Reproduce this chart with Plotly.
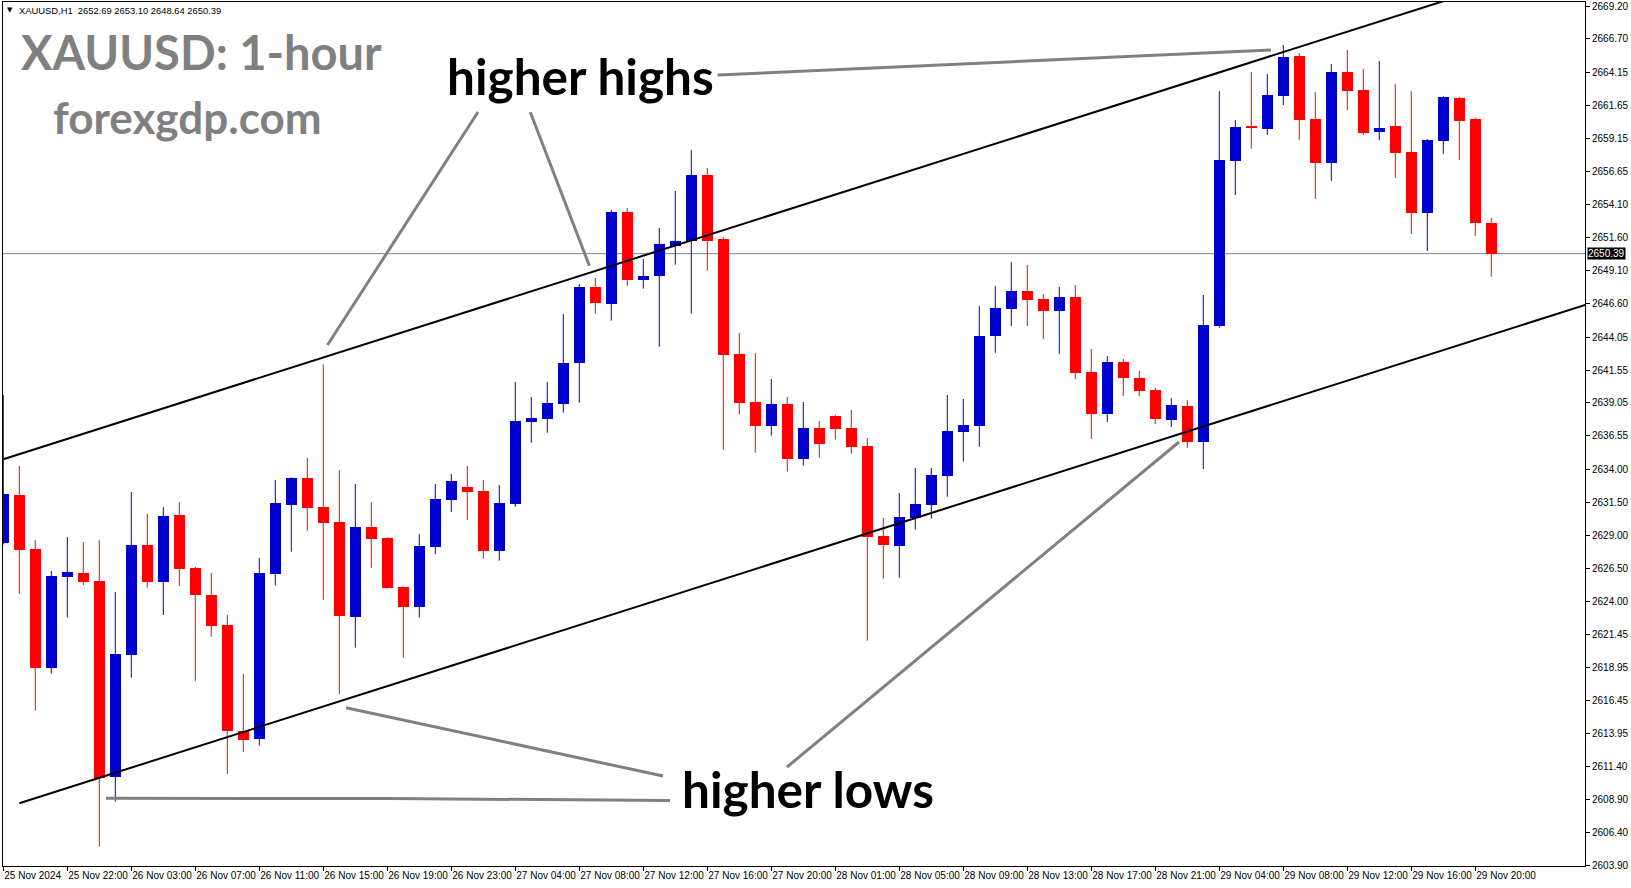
import plotly.graph_objects as go

# ---------------- data ----------------
opens = [2628.43, 2632.06, 2627.95, 2618.94, 2625.85, 2626.13, 2625.52, 2610.66, 2619.90, 2628.26,
         2625.45, 2630.54, 2626.51, 2624.46, 2622.18, 2614.13, 2613.55, 2626.08, 2631.32, 2633.35,
         2631.14, 2630.01, 2622.81, 2629.63, 2628.79, 2625.07, 2623.57, 2628.11, 2631.68, 2632.66,
         2632.36, 2627.83, 2631.37, 2637.60, 2637.83, 2638.99, 2642.11, 2647.86, 2646.59, 2653.55,
         2648.41, 2648.71, 2650.97, 2651.37, 2656.36, 2651.50, 2642.77, 2639.12, 2637.32, 2638.97,
         2634.81, 2637.15, 2638.06, 2637.15, 2635.78, 2628.96, 2628.20, 2630.33, 2631.30, 2633.50,
         2636.84, 2637.32, 2644.13, 2646.18, 2647.55, 2646.94, 2646.03, 2647.10, 2641.40, 2638.21,
         2642.16, 2640.94, 2640.03, 2637.75, 2638.82, 2636.08, 2644.92, 2657.45, 2660.05, 2659.86,
         2662.36, 2665.40, 2660.62, 2657.27, 2664.19, 2662.82, 2659.63, 2660.08, 2658.11, 2653.48,
         2658.95, 2662.21, 2660.62, 2652.69]
highs = [2639.65, 2634.26, 2628.64, 2626.28, 2628.87, 2628.49, 2628.64, 2624.69, 2632.28, 2630.61,
         2631.14, 2631.52, 2626.59, 2626.13, 2622.94, 2618.46, 2627.27, 2633.20, 2633.40, 2634.87,
         2641.98, 2633.95, 2632.89, 2631.52, 2628.85, 2625.12, 2629.09, 2632.89, 2633.65, 2634.26,
         2633.20, 2632.82, 2640.64, 2639.50, 2640.64, 2645.80, 2648.08, 2648.54, 2653.70, 2653.86,
         2649.98, 2652.34, 2655.15, 2658.26, 2656.89, 2651.63, 2644.36, 2642.84, 2640.87, 2639.50,
         2639.12, 2637.68, 2638.13, 2638.51, 2636.39, 2630.33, 2632.21, 2634.11, 2634.11, 2639.65,
         2639.35, 2646.41, 2647.93, 2649.75, 2649.53, 2647.32, 2647.86, 2648.01, 2643.15, 2642.61,
         2642.39, 2641.48, 2640.18, 2639.42, 2639.27, 2647.25, 2662.74, 2660.54, 2664.19, 2664.03,
         2666.24, 2665.63, 2662.67, 2664.79, 2665.86, 2664.41, 2665.02, 2663.28, 2662.74, 2659.10,
         2662.36, 2662.29, 2660.70, 2653.10]
lows = [2628.30, 2624.54, 2615.67, 2618.48, 2622.74, 2625.22, 2605.34, 2608.76, 2618.18, 2625.01,
        2622.94, 2625.14, 2617.93, 2621.29, 2610.86, 2612.53, 2613.01, 2625.17, 2627.75, 2629.34,
        2624.10, 2616.92, 2620.46, 2626.53, 2624.95, 2619.70, 2622.74, 2627.57, 2630.76, 2630.16,
        2627.22, 2627.07, 2631.17, 2636.03, 2636.79, 2638.31, 2639.07, 2645.83, 2645.30, 2647.95,
        2647.73, 2643.32, 2649.55, 2645.83, 2649.09, 2635.50, 2638.16, 2635.27, 2636.56, 2633.83,
        2634.28, 2634.89, 2636.26, 2635.19, 2620.99, 2625.70, 2625.77, 2629.42, 2630.26, 2631.93,
        2634.59, 2635.72, 2642.86, 2644.89, 2644.89, 2643.91, 2642.77, 2640.87, 2636.31, 2637.60,
        2639.58, 2639.58, 2637.45, 2637.22, 2635.63, 2634.03, 2644.76, 2654.84, 2658.36, 2659.42,
        2661.68, 2659.02, 2654.54, 2655.91, 2661.30, 2659.40, 2659.02, 2656.13, 2651.88, 2650.59,
        2657.96, 2657.50, 2651.73, 2648.64]
closes = [2632.13, 2627.88, 2618.94, 2625.90, 2626.21, 2625.47, 2610.58, 2619.98, 2628.26, 2625.45,
          2630.46, 2626.44, 2624.48, 2622.13, 2614.15, 2613.45, 2626.13, 2631.45, 2633.35, 2631.09,
          2629.95, 2622.89, 2629.63, 2628.74, 2625.01, 2623.57, 2628.18, 2631.75, 2633.12, 2632.28,
          2627.83, 2631.45, 2637.68, 2637.90, 2639.04, 2642.08, 2647.86, 2646.66, 2653.55, 2648.41,
          2648.69, 2651.12, 2651.35, 2656.36, 2651.37, 2642.71, 2639.07, 2637.32, 2638.97, 2634.81,
          2637.15, 2635.95, 2637.09, 2635.72, 2628.89, 2628.28, 2630.41, 2631.37, 2633.58, 2636.92,
          2637.37, 2644.13, 2646.26, 2647.55, 2646.87, 2646.03, 2647.10, 2641.32, 2638.21, 2642.16,
          2640.94, 2639.96, 2637.83, 2638.89, 2636.08, 2644.97, 2657.50, 2660.01, 2659.95, 2662.44,
          2665.33, 2660.54, 2657.27, 2664.19, 2662.74, 2659.55, 2659.93, 2658.03, 2653.48, 2659.02,
          2662.29, 2660.46, 2652.72, 2650.39]

x_tick_bars = list(range(0, 93, 4))
x_tick_labels = ["25 Nov 2024", "25 Nov 22:00", "26 Nov 03:00", "26 Nov 07:00", "26 Nov 11:00",
                 "26 Nov 15:00", "26 Nov 19:00", "26 Nov 23:00", "27 Nov 04:00", "27 Nov 08:00",
                 "27 Nov 12:00", "27 Nov 16:00", "27 Nov 20:00", "28 Nov 01:00", "28 Nov 05:00",
                 "28 Nov 09:00", "28 Nov 13:00", "28 Nov 17:00", "28 Nov 21:00", "29 Nov 04:00",
                 "29 Nov 08:00", "29 Nov 12:00", "29 Nov 16:00", "29 Nov 20:00"]
y_tick_labels = ["2669.20", "2666.70", "2664.15", "2661.65", "2659.15", "2656.65", "2654.10",
                 "2651.60", "2649.10", "2646.60", "2644.05", "2641.55", "2639.05", "2636.55",
                 "2634.00", "2631.50", "2629.00", "2626.50", "2624.00", "2621.45", "2618.95",
                 "2616.45", "2613.95", "2611.40", "2608.90", "2606.40", "2603.90"]
last_close = 2650.39

# trend channel (bar index, price)
upper_channel_x = [0, 92]
upper_channel_y = [2634.77, 2670.34]
lower_channel_x = [1.0, 99.5]
lower_channel_y = [2608.64, 2646.74]

# pointer lines (bar index, price)
pointer_lines = [
    ([29.67, 20.26], [2661.15, 2643.45]),
    ([32.94, 36.63], [2661.13, 2649.47]),
    ([44.64, 79.23], [2663.96, 2665.86]),
    ([41.23, 21.42], [2610.71, 2615.90]),
    ([41.67, 24.17, 6.42], [2608.85, 2609.00, 2609.02]),
    ([48.98, 73.48], [2611.39, 2636.08]),
]

# ---------------- figure ----------------
W, H = 1631, 888
PL, PR, PT, PB = 3, 1585, 2, 866
BLUE, RED = "#0000CD", "#FF0000"

n = len(opens)
idx = list(range(n))
up = [c >= o for o, c in zip(opens, closes)]
colors = [BLUE if u else RED for u in up]
base = [min(o, c) for o, c in zip(opens, closes)]
height = [max(abs(c - o), 0.09) for o, c in zip(opens, closes)]

fig = go.Figure()

for col, flag in ((BLUE, True), (RED, False)):
    wx, wy = [], []
    for i in idx:
        if up[i] == flag:
            wx += [i, i, None]
            wy += [lows[i], highs[i], None]
    fig.add_trace(go.Scatter(x=wx, y=wy, mode="lines", line=dict(color=col, width=1),
                             hoverinfo="skip", showlegend=False))

fig.add_trace(go.Bar(x=idx, y=height, base=base, width=0.6875,
                     marker=dict(color=colors, line=dict(width=0)),
                     hoverinfo="skip", showlegend=False))

fig.add_trace(go.Scatter(x=upper_channel_x, y=upper_channel_y, mode="lines",
                         line=dict(color="black", width=2), hoverinfo="skip", showlegend=False))
fig.add_trace(go.Scatter(x=lower_channel_x, y=lower_channel_y, mode="lines",
                         line=dict(color="black", width=2), hoverinfo="skip", showlegend=False))
for lx, ly in pointer_lines:
    fig.add_trace(go.Scatter(x=lx, y=ly, mode="lines",
                             line=dict(color="#808080", width=3), hoverinfo="skip", showlegend=False))

fig.add_shape(type="line", xref="paper", x0=0, x1=1, yref="y", y0=last_close, y1=last_close,
              line=dict(color="#778899", width=1), layer="below")


def px(x):
    return (x - PL) / (PR - PL)


def py(y):
    return (PB - y) / (PB - PT)


ann = []
ann.append(dict(x=px(10), y=py(10.5), xref="paper", yref="paper", text="▼", showarrow=False,
                xanchor="center", yanchor="middle", font=dict(family="DejaVu Sans", size=7, color="black")))
ann.append(dict(x=px(17), y=py(10.5), xref="paper", yref="paper",
                text="XAUUSD,H1  2652.69 2653.10 2648.64 2650.39", showarrow=False,
                xanchor="left", yanchor="middle",
                font=dict(family="Liberation Sans", size=9.4, color="black")))
ann.append(dict(x=px(19), y=py(52), xref="paper", yref="paper", text="<b>XAUUSD: 1-hour</b>",
                showarrow=False, xanchor="left", yanchor="middle",
                font=dict(family="Lato", size=47, color="#808080")))
ann.append(dict(x=px(51), y=py(117), xref="paper", yref="paper", text="<b>forexgdp.com</b>",
                showarrow=False, xanchor="left", yanchor="middle",
                font=dict(family="Lato", size=44, color="#808080")))
ann.append(dict(x=px(580), y=py(76), xref="paper", yref="paper", text="<b>higher highs</b>",
                showarrow=False, xanchor="center", yanchor="middle",
                font=dict(family="Lato", size=49.5, color="black")))
ann.append(dict(x=px(808), y=py(789), xref="paper", yref="paper", text="<b>higher lows</b>",
                showarrow=False, xanchor="center", yanchor="middle",
                font=dict(family="Lato", size=49.5, color="black")))
ann.append(dict(x=1, y=last_close, xref="paper", yref="y", text="2650.39", showarrow=False,
                xanchor="left", yanchor="middle", xshift=2, bgcolor="black", borderpad=0,
                font=dict(family="Liberation Sans", size=10, color="white")))

x0 = (PL - 3.3) / 16
x1 = (PR - 3.3) / 16
y_top = 2669.20 + (6 - PT) / 13.165
y_bot = 2669.20 - (PB - 6) / 13.165

fig.update_layout(
    width=W, height=H,
    margin=dict(l=PL, r=W - PR, t=PT, b=H - PB, pad=0, autoexpand=False),
    paper_bgcolor="white", plot_bgcolor="white",
    showlegend=False, bargap=0, annotations=ann,
    xaxis=dict(range=[x0, x1], showgrid=False, zeroline=False, automargin=False,
               tickmode="array", tickvals=x_tick_bars, ticktext=x_tick_labels, tickangle=0,
               ticks="outside", ticklen=4, tickcolor="black", tickwidth=1,
               ticklabelposition="outside right",
               tickfont=dict(family="Liberation Sans", size=10, color="black"),
               showline=True, linecolor="black", linewidth=1, mirror=True, fixedrange=True),
    yaxis=dict(range=[y_bot, y_top], side="right", showgrid=False, zeroline=False, automargin=False,
               tickmode="array", tickvals=[float(v) for v in y_tick_labels], ticktext=y_tick_labels,
               ticks="outside", ticklen=4, tickcolor="black", tickwidth=1,
               tickfont=dict(family="Liberation Sans", size=10, color="black"),
               showline=True, linecolor="black", linewidth=1, mirror=True, fixedrange=True),
)

fig.write_html("out.html", config={"displayModeBar": False},
               post_script="document.body.style.margin='0';document.body.style.padding='0';")
